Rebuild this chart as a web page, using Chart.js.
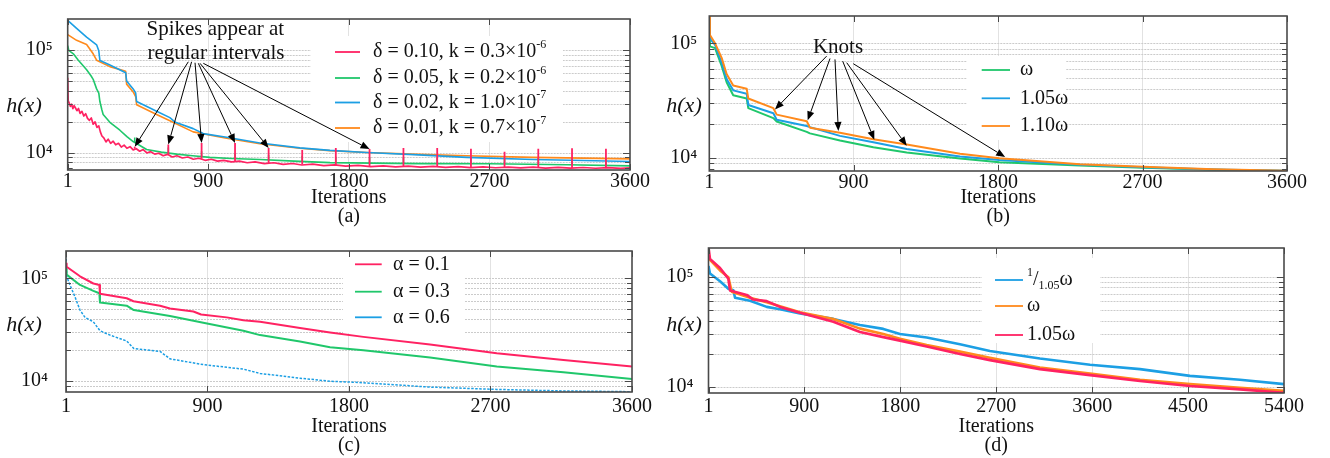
<!DOCTYPE html>
<html>
<head>
<meta charset="utf-8">
<script src="https://cdn.jsdelivr.net/npm/chart.js@4.4.0/dist/chart.umd.min.js"></script>
<style>
  html, body { margin: 0; padding: 0; background: #fff; }
  #fig { position: relative; width: 1330px; height: 458px; overflow: hidden; background: #fff; }
  .panel { position: absolute; }
  .panel canvas { display: block; }
</style>
</head>
<body>
<div id="fig">
  <div class="panel" style="left:0;top:0"><canvas id="chartA" width="660" height="229"></canvas></div>
  <div class="panel" style="left:660px;top:0"><canvas id="chartB" width="670" height="229"></canvas></div>
  <div class="panel" style="left:0;top:229px"><canvas id="chartC" width="660" height="229"></canvas></div>
  <div class="panel" style="left:660px;top:229px"><canvas id="chartD" width="670" height="229"></canvas></div>
</div>
<script>
// tick labels
const ticks3600 = [1, 900, 1800, 2700, 3600];
const ticks5400 = [1, 900, 1800, 2700, 3600, 4500, 5400];
const logTicks = [7000, 8000, 9000, 10000, 20000, 30000, 40000, 50000, 60000, 70000, 80000, 90000, 100000, 200000];

// (a) step size / convexity
const aRedIt = [1, 4, 10, 18, 26, 34, 42, 50, 60, 70, 80, 92, 104, 116, 128, 140, 152, 164, 176, 188, 200, 210, 220, 232, 246, 260, 276, 292, 308, 326, 344, 362, 380, 400, 420, 440, 462, 484, 508, 532, 558, 584, 612, 640, 670, 700, 735, 770, 805, 840, 880, 920, 960, 1000, 1050, 1100, 1150, 1200, 1260, 1320, 1380, 1440, 1500, 1570, 1640, 1710, 1780, 1860, 1940, 2020, 2100, 2180, 2260, 2340, 2420, 2500, 2580, 2660, 2740, 2820, 2900, 2980, 3060, 3140, 3220, 3300, 3380, 3460, 3540, 3600];
const aRedH = [53600, 32000, 30500, 28200, 29600, 26800, 28700, 27300, 25600, 26900, 24100, 25200, 22700, 23900, 21500, 20600, 21700, 18900, 19900, 17600, 18200, 15900, 14500, 13900, 12700, 13500, 12300, 12900, 11900, 12300, 11300, 11800, 11000, 11400, 10600, 10900, 10300, 10700, 9900, 10200, 9650, 9850, 9300, 9600, 9050, 9300, 8850, 9050, 8600, 8800, 8400, 8600, 8250, 8400, 8100, 8250, 7950, 8100, 7800, 7950, 7680, 7820, 7560, 7700, 7460, 7580, 7380, 7500, 7300, 7420, 7250, 7360, 7200, 7320, 7170, 7280, 7130, 7250, 7110, 7220, 7080, 7200, 7060, 7180, 7040, 7150, 7030, 7130, 7010, 7100];
const aGreenIt = [1, 8, 37, 69, 100, 122, 150, 164, 186, 200, 207, 220, 228, 271, 335, 380, 420, 506, 600, 698, 800, 911, 1050, 1231, 1450, 1680, 1950, 2250, 2700, 3200, 3600];
const aGreenH = [110000, 99000, 91600, 79400, 70000, 64100, 56000, 51700, 41700, 38000, 31400, 26000, 23500, 19700, 16500, 14300, 12800, 10700, 10100, 9660, 9300, 8980, 8750, 8550, 8250, 7970, 7880, 7800, 7780, 7600, 7410];
const aBlueIt = [1, 58, 122, 186, 200, 207, 271, 314, 372, 378, 420, 436, 442, 570, 655, 690, 804, 868, 1018, 1231, 1487, 1679, 1914, 2250, 2554, 2980, 3300, 3600];
const aBlueH = [194000, 162000, 133000, 112000, 98000, 79000, 71300, 66400, 60000, 49900, 41700, 38000, 31400, 25300, 21900, 19700, 17100, 15300, 14100, 12400, 11100, 10500, 10000, 9500, 8980, 8550, 8370, 8190];
const aOrangeIt = [1, 58, 122, 164, 186, 271, 372, 378, 420, 436, 442, 570, 655, 804, 1018, 1231, 1487, 1679, 1914, 2250, 2554, 2980, 3300, 3600];
const aOrangeH = [141000, 124000, 113000, 91600, 79400, 68700, 62000, 46400, 38900, 35000, 29200, 23500, 20400, 15900, 13800, 12200, 11000, 10450, 10000, 9600, 9300, 8980, 8830, 8680];
// periodic spikes
const spikeIt = [430, 645, 858, 1072, 1287, 1502, 1717, 1933, 2150, 2366, 2582, 2797, 3013, 3229, 3446];
const spikeRedLo = [10900, 9500, 8700, 8200, 7900, 7650, 7500, 7400, 7300, 7250, 7200, 7150, 7100, 7080, 7050];
const spikeRedHi = [11400, 12000, 12400, 12400, 11100, 10600, 11100, 10800, 11100, 11100, 10900, 10200, 10900, 11000, 10900];
const spikeGreenLo = [12600, 9900, 9100, 8720, 8500, 8200, 7960, 7880, 7830, 7790, 7780, 7750, 7670, 7590, 7480];
const spikeGreenHi = [14000, 11200, 10300, 9800, 9500, 9300, 9100, 9050, 9000, 9000, 8950, 8900, 8850, 8800, 8700];
const spikeArrowIdx = [0, 1, 2, 3, 4, 7];
const spikeArrowFromIt = [773, 794, 816, 837, 848, 869];
const spikeArrowFromH = [76600, 76600, 75000, 74000, 74000, 74000];

// (b) weight scaling
const bIt = [1, 5, 37, 78, 109, 150, 234, 244, 400, 421, 608, 628, 815, 1023, 1231, 1563, 1808, 2310, 2704, 3141, 3600];
const bGreenH = [160000, 94000, 90800, 63500, 45800, 35300, 33000, 27200, 22300, 20800, 16900, 16400, 14200, 12400, 11200, 9900, 9200, 8600, 8250, 7900, 7720];
const bBlueH = [165000, 110000, 96900, 67700, 48800, 38900, 36400, 29000, 24600, 21600, 19000, 18600, 15600, 13700, 12000, 10300, 9600, 8750, 8300, 7950, 7740];
const bOrangeH = [170000, 118000, 100000, 74700, 53900, 42900, 40200, 33000, 27200, 23900, 20900, 18400, 16600, 14600, 13100, 10900, 9950, 8840, 8390, 8000, 7760];
const knotIt = [410, 614, 805, 1029, 1231, 1844];
const knotH = [26500, 21300, 17200, 14400, 12800, 10200];
const knotFromIt = [732, 753, 784, 832, 857, 898];
const knotFromH = [77300, 73700, 72400, 69900, 67800, 66400];

// (c) alpha
const cRedIt = [1, 5, 90, 175, 213, 217, 387, 430, 599, 662, 811, 860, 1023, 1129, 1235, 1489, 1680, 1892, 2316, 2740, 3164, 3600];
const cRedH = [140000, 130000, 105000, 89300, 86500, 70900, 64200, 60000, 54300, 50900, 47700, 44600, 41800, 39100, 37800, 32900, 29800, 27000, 22800, 18700, 16100, 13900];
const cGreenIt = [1, 5, 90, 175, 213, 217, 387, 432, 662, 874, 1129, 1235, 1489, 1680, 1892, 2316, 2740, 3164, 3600];
const cGreenH = [125000, 109000, 86500, 75700, 71800, 58200, 54300, 49200, 43200, 37100, 31000, 28100, 24400, 21400, 20000, 17000, 13900, 12200, 10500];
const cBlueIt = [1, 5, 26, 58, 90, 122, 175, 217, 281, 387, 432, 599, 662, 874, 1129, 1235, 1489, 1680, 1892, 2316, 2740, 3164, 3600];
const cBlueH = [185000, 105000, 86500, 66300, 49200, 41800, 37800, 31000, 28100, 24600, 20800, 19500, 16500, 14500, 13100, 11900, 10700, 10000, 9660, 8760, 8320, 8040, 7900];

// (d) omega variants, 5400 iterations
const dBlueIt = [1, 15, 109, 187, 234, 250, 390, 547, 672, 859, 1172, 1422, 1641, 1797, 2048, 2360, 2641, 3110, 3580, 4049, 4518, 4987, 5400];
const dBlueH = [125000, 107000, 91000, 77800, 75300, 64300, 60400, 53200, 50600, 46400, 41400, 36500, 33600, 30200, 28100, 24400, 21200, 18100, 15900, 14500, 12600, 11600, 10600];
const dOrangeIt = [1, 15, 109, 187, 219, 390, 547, 859, 1172, 1422, 1641, 1797, 2048, 2360, 2641, 3110, 3580, 4049, 4518, 4987, 5400];
const dOrangeH = [160000, 142000, 114000, 99000, 73100, 64300, 58500, 47500, 41400, 33800, 30200, 27400, 24000, 20900, 18400, 15000, 13200, 11600, 10600, 9810, 9200];
const dRedIt = [1, 15, 109, 187, 203, 359, 421, 547, 672, 859, 1172, 1422, 1641, 1797, 2048, 2360, 2641, 3110, 3580, 4049, 4518, 4987, 5400];
const dRedH = [185000, 145000, 120000, 96000, 75000, 68300, 62000, 60000, 53200, 47000, 39000, 31500, 28300, 26300, 23300, 19900, 17500, 14500, 12800, 11300, 10200, 9500, 8850];

const FONT = '"Liberation Serif", "Times New Roman", serif';
const RED = '#ff2262', GREEN = '#20c76b', BLUE = '#1c9fe4', ORANGE = '#ff8a1c';
const INK = '#111';

function pts(xs, ys) { return xs.map((v, i) => ({ x: v, y: ys[i] })); }
function spikePts(xs, lo, hi) {
  const out = [];
  xs.forEach((v, i) => out.push({ x: v, y: lo[i] }, { x: v, y: hi[i] }, { x: v, y: null }));
  return out;
}
function series(data, color, width, dash) {
  return { data, borderColor: color, borderWidth: width, borderDash: dash || [], spanGaps: false, fill: false };
}

function seg(ctx, x0, y0, x1, y1) {
  ctx.beginPath(); ctx.moveTo(x0, y0); ctx.lineTo(x1, y1); ctx.stroke();
}
function arrow(ctx, x0, y0, x1, y1) {
  const a = Math.atan2(y1 - y0, x1 - x0), L = 9, W = 3.6;
  const bx = x1 - L * Math.cos(a), by = y1 - L * Math.sin(a);
  seg(ctx, x0, y0, bx, by);
  ctx.beginPath();
  ctx.moveTo(x1, y1);
  ctx.lineTo(bx + W * Math.sin(a), by - W * Math.cos(a));
  ctx.lineTo(bx - W * Math.sin(a), by + W * Math.cos(a));
  ctx.closePath(); ctx.fill();
}
// text made of runs, some raised or lowered
function richText(ctx, parts, x, y, size) {
  ctx.textAlign = 'left'; ctx.textBaseline = 'middle';
  parts.forEach(p => {
    const s = p.sup || p.sub ? Math.round(size * 0.62) : size;
    const dy = p.sup ? -size * 0.36 : p.sub ? size * 0.3 : 0;
    ctx.font = s + 'px ' + FONT;
    ctx.fillText(p.t, x, y + dy);
    x += ctx.measureText(p.t).width;
  });
}

function decor(p) {
  return {
    id: 'decor',
    beforeDatasetsDraw(chart) {
      const { ctx, chartArea: a, scales: { y } } = chart;
      ctx.save();
      ctx.strokeStyle = '#cbcbcb'; ctx.lineWidth = 1; ctx.setLineDash([2, 1]);
      y.ticks.forEach(t => {
        const py = Math.round(y.getPixelForValue(t.value)) + 0.5;
        if (py < a.top + 2 || py > a.bottom - 2) return;
        seg(ctx, a.left, py, a.right, py);
      });
      ctx.restore();
    },
    afterDatasetsDraw(chart) {
      const { ctx, chartArea: a, scales: { x, y } } = chart;
      ctx.save();
      ctx.setLineDash([]);

      // legend
      const L = p.legend;
      ctx.fillStyle = '#fff';
      ctx.fillRect(L.box[0], L.box[1], L.box[2], L.box[3]);
      L.items.forEach((it, i) => {
        const ly = L.rows[i];
        ctx.strokeStyle = it.color; ctx.lineWidth = 1.8;
        seg(ctx, L.x0, ly, L.x1, ly);
        ctx.fillStyle = INK;
        richText(ctx, it.parts, L.tx, ly, L.size);
      });

      // frame with inward ticks
      ctx.strokeStyle = '#4a4a4a'; ctx.lineWidth = 1;
      y.ticks.forEach(t => {
        const py = Math.round(y.getPixelForValue(t.value)) + 0.5;
        if (py < a.top + 1 || py > a.bottom - 1) return;
        const len = (t.value === 1e4 || t.value === 1e5) ? 7 : 5;
        seg(ctx, a.left, py, a.left + len, py);
        seg(ctx, a.right, py, a.right - len, py);
      });
      x.ticks.forEach(t => {
        const px = Math.round(x.getPixelForValue(t.value)) + 0.5;
        seg(ctx, px, a.top, px, a.top + 6);
        seg(ctx, px, a.bottom, px, a.bottom - 6);
      });
      ctx.lineWidth = 1.6;
      ctx.strokeRect(a.left, a.top, a.right - a.left, a.bottom - a.top);

      // y title
      ctx.fillStyle = INK;
      ctx.font = 'italic 22px ' + FONT;
      ctx.textAlign = 'center'; ctx.textBaseline = 'middle';
      ctx.fillText('h(x)', p.hx, p.hy);

      // callouts
      if (p.note) {
        const n = p.note;
        ctx.font = '21px ' + FONT;
        n.lines.forEach(l => ctx.fillText(l.t, x.getPixelForValue(l.it), y.getPixelForValue(l.h)));
        ctx.strokeStyle = '#000'; ctx.fillStyle = '#000'; ctx.lineWidth = 1;
        n.toIt.forEach((it, i) => {
          arrow(ctx,
            x.getPixelForValue(n.fromIt[i]), y.getPixelForValue(n.fromH[i]),
            x.getPixelForValue(it), y.getPixelForValue(n.toH[i]));
        });
      }
      ctx.restore();
    }
  };
}

function makeChart(id, p) {
  const xMax = p.xTicks[p.xTicks.length - 1];
  const yTicks = logTicks.filter(v => v >= p.yMin && v <= p.yMax);
  return new Chart(id, {
    type: 'line',
    data: { datasets: p.datasets },
    options: {
      responsive: false,
      animation: false,
      events: [],
      devicePixelRatio: 1,
      layout: { padding: p.pad },
      elements: { point: { radius: 0 }, line: { tension: 0, borderJoinStyle: 'round' } },
      plugins: { legend: { display: false }, tooltip: { enabled: false } },
      scales: {
        x: {
          type: 'linear', min: 1, max: xMax,
          afterBuildTicks: s => { s.ticks = p.xTicks.map(v => ({ value: v })); },
          afterFit: s => { s.height = p.xHeight; },
          grid: {
            drawTicks: false,
            color: c => (c.tick && c.tick.value > 1 && c.tick.value < xMax) ? '#e2e2e2' : 'rgba(0,0,0,0)'
          },
          border: { display: false },
          ticks: {
            padding: p.xPad, maxRotation: 0, autoSkip: false, color: INK,
            font: { family: FONT, size: 20 },
            callback: v => String(v)
          },
          title: {
            display: true, text: ['Iterations', p.tag], color: INK,
            font: { family: FONT, size: 20, lineHeight: '19px' },
            padding: { top: 0, bottom: 2.5 }
          }
        },
        y: {
          type: 'logarithmic', min: p.yMin, max: p.yMax,
          afterBuildTicks: s => { s.ticks = yTicks.map(v => ({ value: v })); },
          afterFit: s => { s.width = p.yWidth; },
          grid: { display: false },
          border: { display: false },
          ticks: {
            autoSkip: false, padding: p.yPad, color: INK,
            font: { family: FONT, size: 20 },
            callback: v => v === 1e4 ? '10\u2074' : v === 1e5 ? '10\u2075' : ''
          }
        }
      }
    },
    plugins: [decor(p)]
  });
}

makeChart('chartA', {
  tag: '(a)', xTicks: ticks3600, yMin: 6760, yMax: 200000,
  pad: { left: 0, right: 30, top: 12, bottom: 0 }, yWidth: 67.7, xHeight: 59, xPad: 0, yPad: 7,
  hx: 24, hy: 106,
  datasets: [
    series(spikePts(spikeIt, spikeRedLo, spikeRedHi), RED, 1.8),
    series(spikePts(spikeIt, spikeGreenLo, spikeGreenHi), GREEN, 1.6),
    series(pts(aRedIt, aRedH), RED, 1.7),
    series(pts(aGreenIt, aGreenH), GREEN, 1.6),
    series(pts(aBlueIt, aBlueH), BLUE, 1.6),
    series(pts(aOrangeIt, aOrangeH), ORANGE, 1.6)
  ],
  legend: {
    box: [311, 36, 252, 106], rows: [52, 78, 102.5, 128], x0: 335, x1: 360, tx: 373, size: 20,
    items: [
      { color: RED, parts: [{ t: '\u03b4 = 0.10, k = 0.3\u00d710' }, { t: '-6', sup: true }] },
      { color: GREEN, parts: [{ t: '\u03b4 = 0.05, k = 0.2\u00d710' }, { t: '-6', sup: true }] },
      { color: BLUE, parts: [{ t: '\u03b4 = 0.02, k = 1.0\u00d710' }, { t: '-7', sup: true }] },
      { color: ORANGE, parts: [{ t: '\u03b4 = 0.01, k = 0.7\u00d710' }, { t: '-7', sup: true }] }
    ]
  },
  note: {
    lines: [{ t: 'Spikes appear at', it: 946, h: 157000 }, { t: 'regular intervals', it: 950, h: 92200 }],
    fromIt: spikeArrowFromIt, fromH: spikeArrowFromH,
    toIt: spikeArrowIdx.map(i => spikeIt[i]), toH: spikeArrowIdx.map(i => spikeRedHi[i])
  }
});

makeChart('chartB', {
  tag: '(b)', xTicks: ticks3600, yMin: 7710, yMax: 173000,
  pad: { left: 0, right: 43, top: 12, bottom: 0 }, yWidth: 49.3, xHeight: 58, xPad: 0, yPad: 4,
  hx: 24, hy: 106,
  datasets: [
    series(pts(bIt, bOrangeH), ORANGE, 2),
    series(pts(bIt, bBlueH), BLUE, 2),
    series(pts(bIt, bGreenH), GREEN, 2)
  ],
  legend: {
    box: [307, 56, 99, 84], rows: [70, 98.3, 126], x0: 321.7, x1: 350, tx: 360, size: 20,
    items: [
      { color: GREEN, parts: [{ t: '\u03c9' }] },
      { color: BLUE, parts: [{ t: '1.05\u03c9' }] },
      { color: ORANGE, parts: [{ t: '1.10\u03c9' }] }
    ]
  },
  note: {
    lines: [{ t: 'Knots', it: 803, h: 92700 }],
    fromIt: knotFromIt, fromH: knotFromH, toIt: knotIt, toH: knotH
  }
});

makeChart('chartC', {
  tag: '(c)', xTicks: ticks3600, yMin: 7850, yMax: 185000,
  pad: { left: 0, right: 28, top: 4, bottom: 0 }, yWidth: 66, xHeight: 66, xPad: 3, yPad: 10,
  hx: 24, hy: 96,
  datasets: [
    series(pts(cRedIt, cRedH), RED, 2),
    series(pts(cGreenIt, cGreenH), GREEN, 2),
    series(pts(cBlueIt, cBlueH), BLUE, 1.5, [2.5, 1.5])
  ],
  legend: {
    box: [343, 21, 122, 83], rows: [35.3, 62.7, 88.3], x0: 355, x1: 381.7, tx: 393, size: 20,
    items: [
      { color: RED, parts: [{ t: '\u03b1 = 0.1' }] },
      { color: GREEN, parts: [{ t: '\u03b1 = 0.3' }] },
      { color: BLUE, parts: [{ t: '\u03b1 = 0.6' }] }
    ]
  }
});

makeChart('chartD', {
  tag: '(d)', xTicks: ticks5400, yMin: 8810, yMax: 182000,
  pad: { left: 0, right: 46, top: 4, bottom: 0 }, yWidth: 48.5, xHeight: 65, xPad: 2, yPad: 7,
  hx: 24, hy: 96,
  datasets: [
    series(pts(dRedIt, dRedH), RED, 2.6),
    series(pts(dOrangeIt, dOrangeH), ORANGE, 2.6),
    series(pts(dBlueIt, dBlueH), BLUE, 2.6)
  ],
  legend: {
    box: [322, 29, 118, 85], rows: [51, 77, 106], x0: 335, x1: 363, tx: 367, size: 20,
    items: [
      { color: BLUE, parts: [{ t: '1', sup: true }, { t: '/' }, { t: '1.05', sub: true }, { t: '\u03c9' }] },
      { color: ORANGE, parts: [{ t: '\u03c9' }] },
      { color: RED, parts: [{ t: '1.05\u03c9' }] }
    ]
  }
});
</script>
</body>
</html>
